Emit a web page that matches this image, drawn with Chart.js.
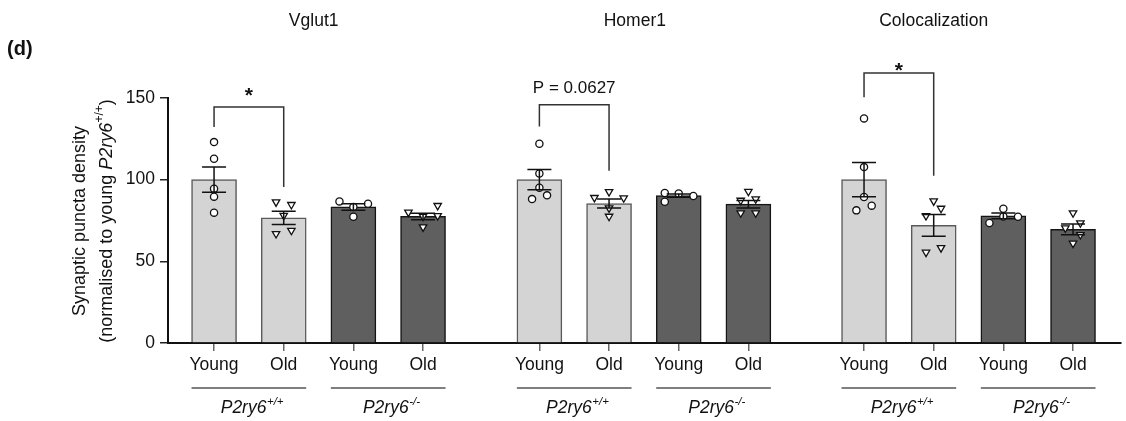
<!DOCTYPE html>
<html><head><meta charset="utf-8">
<script src="https://cdn.jsdelivr.net/npm/chart.js@4.4.1/dist/chart.umd.min.js"></script>
<style>html,body{margin:0;padding:0;background:#fff;}canvas{display:block;}</style>
</head><body>
<canvas id="c" width="1126" height="421"></canvas>
<script>
// ---- data ----
const panels = ['Vglut1', 'Homer1', 'Colocalization'];
const conditions = ['Young', 'Old', 'Young', 'Old'];
const genotypeSup = ['+/+', '-/-'];
const yTicks = [0, 50, 100, 150];
const barPositions = [0, 1, 2, 3, 4.67, 5.67, 6.67, 7.67, 9.33, 10.33, 11.33, 12.33];
const means = [100, 76.6, 83.3, 77.5, 100, 85.4, 90.3, 85.0, 100, 72.0, 77.8, 69.6];
const sems = [7.7, 4.0, 2.0, 2.0, 6.2, 2.8, 1.0, 2.3, 10.5, 6.6, 1.8, 3.3];
// individual animals: [x jitter (category units), value]
const vglut1Points = [
  [[0,123],[0,112.8],[0,94.5],[0,89.6],[0,79.8]],
  [[-0.11,86.3],[0.11,84.7],[0,78.1],[-0.11,66.9],[0.11,68.9]],
  [[-0.2,86.7],[0.21,85.3],[0,83.3],[0,77.3]],
  [[0.21,84.1],[-0.21,80],[0.21,77.9],[0,77.5],[0,71]]
];
const homer1Points = [
  [[0,122],[0,103.8],[0,95.1],[-0.105,88.1],[0.11,90.4]],
  [[0,92.6],[-0.21,89],[0.21,88.8],[0,82.6],[0,77.5]],
  [[-0.2,91.8],[0,91.6],[0.21,90],[-0.2,86.5]],
  [[0,92.8],[-0.11,87.3],[0.105,88.2],[-0.11,79.6],[0.105,79.6]]
];
const colocPoints = [
  [[0,137.5],[0,107.7],[0,89.4],[-0.11,81.2],[0.11,84.1]],
  [[0,86.9],[0.105,82.4],[-0.11,77.9],[-0.11,55.5],[0.105,58.3]],
  [[0,82.2],[0,77.5],[0.21,77.3],[-0.2,73.5]],
  [[0,79.6],[0.105,73.5],[-0.11,70.4],[0.105,66.3],[0,61]]
];
// significance annotations: bar indices, bracket heights (y units), label
const sigFrom = [0, 4, 8];
const sigTo = [1, 5, 9];
const sigTop = [144.5, 145.9, 165.3];
const sigLegFrom = [132.2, 132.6, 150.4];
const sigLegTo = [95.5, 105.5, 102.4];
const sigLabels = ['*', 'P = 0.0627', '*'];
const sigLabelY = [147.3, 156.1, 162.8];

// ---- build ----
const FAM = '"Liberation Sans", Arial, Helvetica, sans-serif';
const allPoints = [vglut1Points, homer1Points, colocPoints];
const youngPts = [], oldPts = [];
allPoints.forEach((panel, p) => panel.forEach((bar, b) => {
  const idx = p * 4 + b;
  bar.forEach(([dx, v]) => {
    (conditions[b] === 'Young' ? youngPts : oldPts).push({ x: barPositions[idx] + dx, y: v });
  });
}));
const isDark = barPositions.map((_, i) => (i % 4) >= 2);
const barData = barPositions.map((x, i) => ({ x, y: means[i] }));

const annot = {
  id: 'annot',
  afterDatasetsDraw(chart) {
    const { ctx, scales: { x, y } } = chart;
    ctx.save();
    ctx.strokeStyle = '#111';
    ctx.lineWidth = 1.5;
    barPositions.forEach((pos, i) => {
      const px = x.getPixelForValue(pos);
      const t = y.getPixelForValue(means[i] + sems[i]);
      const b = y.getPixelForValue(means[i] - sems[i]);
      const hw = 12;
      ctx.beginPath();
      ctx.moveTo(px, t); ctx.lineTo(px, b);
      ctx.moveTo(px - hw, t); ctx.lineTo(px + hw, t);
      ctx.moveTo(px - hw, b); ctx.lineTo(px + hw, b);
      ctx.stroke();
    });
    ctx.restore();
  },
  afterDraw(chart) {
    const { ctx, scales: { x, y }, chartArea } = chart;
    ctx.save();
    ctx.fillStyle = '#111';
    // panel titles
    const titleX = [1.43, 6.04, 10.33];
    ctx.font = '17.5px ' + FAM;
    ctx.textAlign = 'center';
    ctx.textBaseline = 'middle';
    panels.forEach((t, i) => ctx.fillText(t, x.getPixelForValue(titleX[i]), 21));
    // panel letter
    ctx.font = 'bold 20px ' + FAM;
    ctx.textAlign = 'left';
    ctx.fillText('(d)', 7, 49);
    // significance brackets
    ctx.strokeStyle = '#333';
    ctx.lineWidth = 1.5;
    sigFrom.forEach((f, i) => {
      const x1 = x.getPixelForValue(barPositions[f]);
      const x2 = x.getPixelForValue(barPositions[sigTo[i]]);
      const yt = y.getPixelForValue(sigTop[i]);
      ctx.beginPath();
      ctx.moveTo(x1, y.getPixelForValue(sigLegFrom[i]));
      ctx.lineTo(x1, yt); ctx.lineTo(x2, yt);
      ctx.lineTo(x2, y.getPixelForValue(sigLegTo[i]));
      ctx.stroke();
      const star = sigLabels[i] === '*';
      ctx.font = (star ? 'bold 21px ' : '17px ') + FAM;
      ctx.textAlign = 'center';
      ctx.textBaseline = star ? 'alphabetic' : 'middle';
      ctx.fillText(sigLabels[i], (x1 + x2) / 2, y.getPixelForValue(sigLabelY[i]));
    });
    // genotype underlines + labels
    const half = 22.5;
    for (let p = 0; p < panels.length; p++) {
      for (let g = 0; g < 2; g++) {
        const i0 = p * 4 + g * 2;
        const xa = x.getPixelForValue(barPositions[i0]);
        const xb = x.getPixelForValue(barPositions[i0 + 1]);
        const ly = chartArea.bottom + 45;
        ctx.strokeStyle = '#555';
        ctx.lineWidth = 1.5;
        ctx.beginPath();
        ctx.moveTo(xa - half, ly); ctx.lineTo(xb + half, ly);
        ctx.stroke();
        drawGeno(ctx, (xa + xb) / 2 + 3, chartArea.bottom + 70, genotypeSup[g]);
      }
    }
    // y-axis title
    ctx.save();
    ctx.translate(80, 221);
    ctx.rotate(-Math.PI / 2);
    ctx.textAlign = 'center';
    ctx.textBaseline = 'middle';
    ctx.font = '18px ' + FAM;
    ctx.fillText('Synaptic puncta density', 0, 0);
    ctx.restore();
    ctx.save();
    ctx.translate(107, 221);
    ctx.rotate(-Math.PI / 2);
    ctx.textBaseline = 'middle';
    ctx.textAlign = 'left';
    const segs = [
      ['(normalised to young ', '18px ', 0],
      ['P2ry6', 'italic 18px ', 0],
      ['+/+', '12px ', -7],
      [')', '18px ', 0]
    ];
    let tot = 0;
    segs.forEach(s => { ctx.font = s[1] + FAM; tot += ctx.measureText(s[0]).width; });
    let cx = -tot / 2;
    segs.forEach(s => { ctx.font = s[1] + FAM; ctx.fillText(s[0], cx, s[2]); cx += ctx.measureText(s[0]).width; });
    ctx.restore();
    ctx.restore();
  }
};

function drawGeno(ctx, cx, baseY, sup) {
  ctx.textAlign = 'left';
  ctx.textBaseline = 'alphabetic';
  ctx.font = 'italic 17.5px ' + FAM;
  const w1 = ctx.measureText('P2ry6').width;
  ctx.font = 'italic 11.5px ' + FAM;
  const w2 = ctx.measureText(sup).width;
  const start = cx - (w1 + w2) / 2;
  ctx.fillStyle = '#111';
  ctx.font = 'italic 17.5px ' + FAM;
  ctx.fillText('P2ry6', start, baseY);
  ctx.font = 'italic 11.5px ' + FAM;
  ctx.fillText(sup, start + w1 + 0.5, baseY - 8);
}

new Chart(document.getElementById('c'), {
  type: 'bar',
  data: {
    datasets: [
      {
        type: 'scatter', data: youngPts, order: 0,
        pointStyle: 'circle', pointRadius: 3.6, pointBorderWidth: 1.3,
        pointBackgroundColor: '#fff', pointBorderColor: '#111'
      },
      {
        type: 'scatter', data: oldPts, order: 0,
        pointStyle: 'triangle', pointRotation: 180, pointRadius: 4.3, pointBorderWidth: 1.3,
        pointBackgroundColor: '#fff', pointBorderColor: '#111'
      },
      {
        type: 'bar', data: barData, order: 2,
        barThickness: 45,
        backgroundColor: isDark.map(d => d ? '#5f5f5f' : '#d4d4d4'),
        borderColor: isDark.map(d => d ? '#151515' : '#5a5a5a'),
        borderWidth: 1.5, borderSkipped: 'bottom'
      }
    ]
  },
  options: {
    responsive: false,
    devicePixelRatio: 1,
    animation: false,
    layout: { padding: { top: 98, right: 1, left: 0, bottom: 0 } },
    plugins: { legend: { display: false }, tooltip: { enabled: false } },
    scales: {
      x: {
        type: 'linear', min: -0.661, max: 13.01, offset: false,
        afterBuildTicks: s => { s.ticks = barPositions.map(v => ({ value: v })); },
        afterFit: s => { s.height = 78; },
        ticks: {
          autoSkip: false, maxRotation: 0, minRotation: 0, padding: 4,
          color: '#111', font: { family: FAM, size: 17.5 },
          callback: (v, i) => conditions[i % conditions.length]
        },
        grid: { display: true, drawOnChartArea: false, drawTicks: true, tickLength: 8, color: '#666', lineWidth: 1.5, offset: false },
        border: { display: true, color: '#111', width: 2 }
      },
      y: {
        min: 0, max: 150,
        afterBuildTicks: s => { s.ticks = yTicks.map(v => ({ value: v })); },
        afterFit: s => { s.width = 168; },
        ticks: { padding: 5, color: '#111', font: { family: FAM, size: 17.5 } },
        grid: { display: true, drawOnChartArea: false, drawTicks: true, tickLength: 8, color: '#222', lineWidth: 1.5 },
        border: { display: true, color: '#111', width: 2 }
      }
    }
  },
  plugins: [annot]
});
</script>
</body></html>
